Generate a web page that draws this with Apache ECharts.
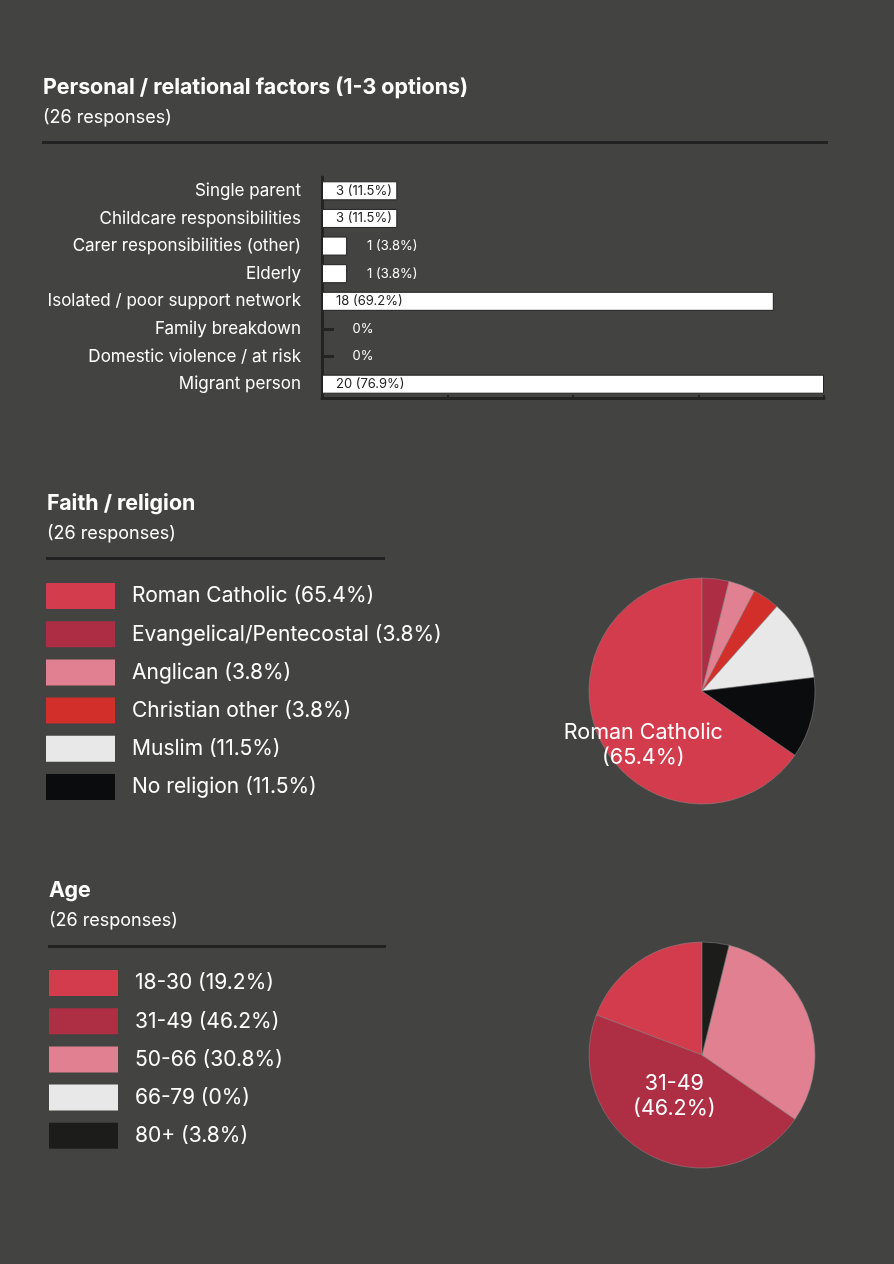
<!DOCTYPE html>
<html><head><meta charset="utf-8">
<script src="https://cdn.jsdelivr.net/npm/echarts@6/dist/echarts.min.js"></script>
<style>html,body{margin:0;padding:0;background:#434341;}#c{width:894px;height:1264px;}</style>
</head><body><div id="c"></div>
<script>
const FONT = 'Inter';
// Personal / relational factors
const factorCategories = ['Single parent','Childcare responsibilities','Carer responsibilities (other)','Elderly','Isolated / poor support network','Family breakdown','Domestic violence / at risk','Migrant person'];
const factorCounts = [3,3,1,1,18,0,0,20];
const factorPct = ['11.5%','11.5%','3.8%','3.8%','69.2%','0%','0%','76.9%'];
const factorTicks = [0,5,10,15,20];
// Faith / religion
const faithNames = ['Roman Catholic','Evangelical/Pentecostal','Anglican','Christian other','Muslim','No religion'];
const faithCounts = [17,1,1,1,3,3];
const faithPct = ['65.4%','3.8%','3.8%','3.8%','11.5%','11.5%'];
// Age
const ageNames = ['18-30','31-49','50-66','66-79','80+'];
const ageCounts = [5,12,8,0,1];
const agePct = ['19.2%','46.2%','30.8%','0%','3.8%'];

const faithColors = ['#d33c4c','#ad2e44','#e08090','#d22f2a','#e8e8e8','#0b0c0e'];
const ageColors = ['#d33c4c','#ae2f44','#e08090','#e8e8e8','#1c1c1a'];

const chart = echarts.init(document.getElementById('c'));
const sumFaith = faithCounts.reduce((a,b)=>a+b,0);

const barData = factorCounts.map((v,i)=>{
  const big = v >= 3;
  return {
    value: v,
    label: {
      show: true,
      formatter: v > 0 ? `${v} (${factorPct[i]})` : factorPct[i],
      position: big ? 'insideLeft' : 'right',
      distance: big ? 14 : (v > 0 ? 20 : 30),
      color: big ? '#222' : '#fff',
      fontSize: 13, fontFamily: FONT
    }
  };
});

const titleBase = (text, left, top) => ({
  text, subtext: '(26 responses)', left, top, padding: 0, itemGap: 11,
  textStyle: {fontSize: 21.4, fontWeight: 'bold', color: '#fff', fontFamily: FONT},
  subtextStyle: {fontSize: 18, color: '#fff', fontFamily: FONT}
});

const legendBase = (names, pcts, left, top) => ({
  orient: 'vertical', left, top, padding: 0,
  itemWidth: 69, itemHeight: 26, itemGap: 12.2, icon: 'rect',
  data: names,
  itemStyle: {borderWidth: 0},
  formatter: n => `${n} (${pcts[names.indexOf(n)]})`,
  textStyle: {color: '#fff', fontSize: 21, fontFamily: FONT, padding: [0,0,0,12]},
  selectedMode: false
});

chart.setOption({
  backgroundColor: '#434341',
  animation: false,
  title: [
    titleBase('Personal / relational factors (1-3 options)', 43, 77),
    titleBase('Faith / religion', 47, 493),
    titleBase('Age', 49, 880)
  ],
  graphic: [
    {type:'rect', shape:{x:42,y:141,width:786,height:3}, style:{fill:'#222'}},
    {type:'rect', shape:{x:46,y:557,width:339,height:3}, style:{fill:'#222'}},
    {type:'rect', shape:{x:48,y:945,width:338,height:3}, style:{fill:'#222'}}
  ],
  legend: [
    legendBase(faithNames, faithPct, 46, 583),
    legendBase(ageNames, agePct, 49, 970)
  ],
  grid: {left: 322, top: 177, width: 502, height: 221},
  xAxis: {
    type: 'value', min: factorTicks[0], max: factorTicks[factorTicks.length-1], interval: 5,
    axisLine: {show: true, lineStyle: {color: '#232323', width: 3}},
    axisTick: {show: true, inside: true, length: 3, lineStyle: {color: '#232323', width: 2}},
    axisLabel: {show: false}, splitLine: {show: false}
  },
  yAxis: {
    type: 'category', data: factorCategories, inverse: true,
    axisLine: {show: true, lineStyle: {color: '#232323', width: 3}},
    axisTick: {show: true, inside: true, alignWithLabel: true, length: 12, lineStyle: {color: '#232323', width: 3}},
    axisLabel: {color: '#fff', fontSize: 17, fontFamily: FONT, margin: 21}
  },
  series: [
    {
      type: 'bar', data: barData, barWidth: 19,
      itemStyle: {color: '#fff', borderColor: '#222', borderWidth: 1}
    },
    {
      type: 'pie', center: [702, 691], radius: 113,
      clockwise: true, startAngle: 90 + 360 * faithCounts[0] / sumFaith,
      label: {show: false}, labelLine: {show: false},
      itemStyle: {borderColor: '#8a8a8a', borderWidth: 0.5},
      emphasis: {disabled: true},
      data: faithNames.map((n,i)=>({
        name: n, value: faithCounts[i],
        itemStyle: {color: faithColors[i]},
        label: i === 0 ? {show: true, position: 'inside', formatter: `${n}\n(${faithPct[i]})`, color: '#fff', fontSize: 21.5, lineHeight: 25, fontFamily: FONT, offset: [-6, 26]} : {show: false}
      }))
    },
    {
      type: 'pie', center: [702, 1055], radius: 113,
      clockwise: false, startAngle: 90,
      label: {show: false}, labelLine: {show: false},
      itemStyle: {borderColor: '#8a8a8a', borderWidth: 0.5},
      emphasis: {disabled: true},
      data: ageNames.map((n,i)=>({
        name: n, value: ageCounts[i],
        itemStyle: {color: ageColors[i]},
        label: i === 1 ? {show: true, position: 'inside', formatter: `${n}\n(${agePct[i]})`, color: '#fff', fontSize: 21.5, lineHeight: 25, fontFamily: FONT, offset: [0, -12]} : {show: false}
      }))
    }
  ]
});
</script></body></html>
